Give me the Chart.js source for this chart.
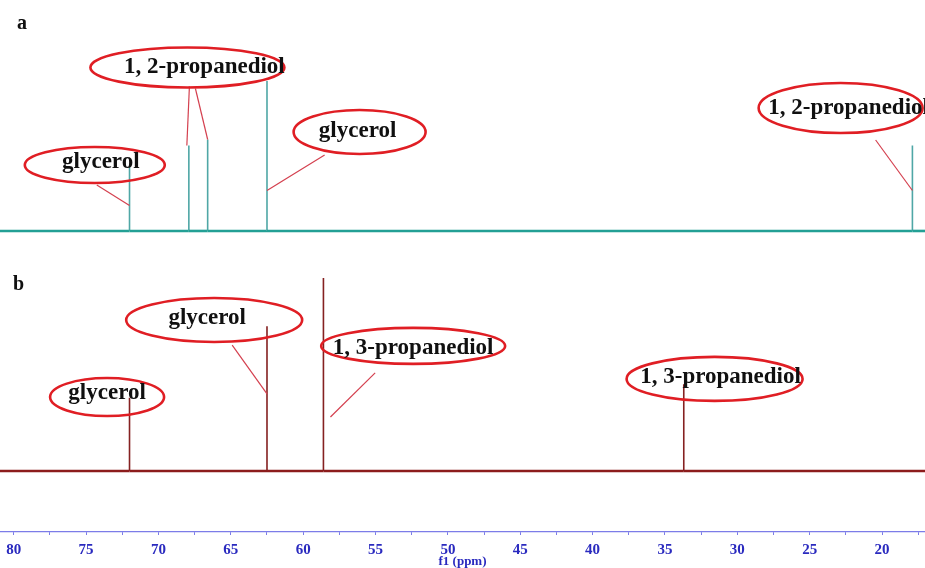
<!DOCTYPE html>
<html>
<head>
<meta charset="utf-8">
<script src="https://cdn.jsdelivr.net/npm/chart.js@4.4.1/dist/chart.umd.min.js"></script>
<style>
  html, body { margin: 0; padding: 0; background: #ffffff; }
  #wrap { width: 925px; height: 568px; position: relative; }
</style>
</head>
<body>
<div id="wrap"><canvas id="nmr" width="925" height="568"></canvas></div>
<script>
// 13C NMR spectra: chemical shift (ppm) and relative peak height of each signal
const shiftsA  = [72.0, 67.9, 66.6, 62.5, 17.9];
const heightsA = [43, 57, 61, 100, 57];
const shiftsB  = [72.0, 62.5, 58.6, 33.7];
const heightsB = [38, 75, 100, 45];

// f1 axis: labelled ticks and visible ppm window
const tickLabels = [80, 75, 70, 65, 60, 55, 50, 45, 40, 35, 30, 25, 20];
const ppmRange = [17.03, 80.95];

// peak assignments
const calloutsA = [
  { text: '1, 2-propanediol', ppm: 68.0, level: 109, rx: 97, ry: 20, dx: 17, dy: 0,
    leaders: [{ dx: 2, dy: 19, peak: 1, level: 57, endDx: -2 }, { dx: 8, dy: 21, peak: 2, level: 61 }] },
  { text: 'glycerol', ppm: 74.4, level: 44, rx: 70, ry: 18, dx: 6, dy: -3,
    leaders: [{ dx: 2, dy: 20, peak: 0, level: 17 }] },
  { text: 'glycerol', ppm: 56.1, level: 66, rx: 66, ry: 22, dx: -2, dy: -1,
    leaders: [{ dx: -35, dy: 23, peak: 3, level: 27 }] },
  { text: '1, 2-propanediol', ppm: 22.86, level: 82, rx: 82, ry: 25, dx: 8, dy: 0,
    leaders: [{ dx: 35, dy: 32, peak: 4, level: 27 }] }
];
const calloutsB = [
  { text: 'glycerol', ppm: 73.55, level: 38.3, rx: 57, ry: 19, dx: 0, dy: -4, leaders: [] },
  { text: 'glycerol', ppm: 66.15, level: 78.2, rx: 88, ry: 22, dx: -7, dy: -2,
    leaders: [{ dx: 18, dy: 25, peak: 1, level: 40 }] },
  { text: '1, 3-propanediol', ppm: 52.4, level: 64.8, rx: 92, ry: 18, dx: 0, dy: 2,
    leaders: [{ dx: -38, dy: 27, peak: 2, level: 28, endDx: 7 }] },
  { text: '1, 3-propanediol', ppm: 31.57, level: 47.7, rx: 88, ry: 22, dx: 6, dy: -2, leaders: [] }
];

const SERIF = "'Liberation Serif', 'Times New Roman', serif";
Chart.defaults.font.family = SERIF;

// stick spectrum: flat baseline with a vertical line at each shift
function spectrum(shifts, heights) {
  const pts = [{ x: ppmRange[1], y: 0 }];
  shifts.forEach((s, i) => {
    pts.push({ x: s, y: 0 }, { x: s, y: heights[i] }, { x: s, y: 0 });
  });
  pts.push({ x: ppmRange[0], y: 0 });
  return pts;
}

function spectrumDataset(shifts, heights, axis, baseColor, peakColor) {
  const flat = c => c.p0.parsed.y === 0 && c.p1.parsed.y === 0;
  return {
    data: spectrum(shifts, heights),
    yAxisID: axis,
    borderColor: baseColor,
    borderWidth: 2.6,
    borderJoinStyle: 'bevel',
    pointRadius: 0,
    tension: 0,
    segment: {
      borderWidth: c => flat(c) ? 2.6 : 1.6,
      borderColor: c => flat(c) ? baseColor : peakColor
    }
  };
}

const calloutPlugin = {
  id: 'callouts',
  afterDatasetsDraw(chart) {
    const ctx = chart.ctx;
    const xs = chart.scales.x;
    const draw = (list, axis, shifts) => {
      const ys = chart.scales[axis];
      list.forEach(c => {
        const cx = xs.getPixelForValue(c.ppm);
        const cy = ys.getPixelForValue(c.level);
        ctx.strokeStyle = '#d4404f';
        ctx.lineWidth = 1.2;
        c.leaders.forEach(l => {
          const ex = xs.getPixelForValue(shifts[l.peak]) + (l.endDx || 0);
          const ey = ys.getPixelForValue(l.level);
          ctx.beginPath();
          ctx.moveTo(cx + l.dx, cy + l.dy);
          ctx.lineTo(ex, ey);
          ctx.stroke();
        });
        ctx.beginPath();
        ctx.ellipse(cx, cy, c.rx, c.ry, 0, 0, Math.PI * 2);
        ctx.strokeStyle = '#e01e24';
        ctx.lineWidth = 2.6;
        ctx.stroke();
        ctx.fillStyle = '#101010';
        ctx.font = 'bold 23px ' + SERIF;
        ctx.textAlign = 'center';
        ctx.textBaseline = 'middle';
        ctx.fillText(c.text, cx + c.dx, cy + c.dy);
      });
    };
    ctx.save();
    draw(calloutsA, 'yA', shiftsA);
    draw(calloutsB, 'yB', shiftsB);
    // panel letters
    ctx.fillStyle = '#101010';
    ctx.font = 'bold 20px ' + SERIF;
    ctx.textAlign = 'left';
    ctx.textBaseline = 'alphabetic';
    ctx.fillText('a', 17, 29);
    ctx.fillText('b', 13, 290);
    ctx.restore();
  }
};

const AXIS_BLUE = '#7c7ce8';
const LABEL_BLUE = '#2a2abf';

new Chart(document.getElementById('nmr'), {
  type: 'line',
  data: {
    datasets: [
      spectrumDataset(shiftsA, heightsA, 'yA', '#23a095', '#4fa7a6'),
      spectrumDataset(shiftsB, heightsB, 'yB', '#8c1c1c', '#852121')
    ]
  },
  options: {
    responsive: false,
    animation: false,
    devicePixelRatio: 1,
    events: [],
    layout: { padding: 0 },
    plugins: { legend: { display: false }, tooltip: { enabled: false } },
    scales: {
      x: {
        type: 'linear',
        reverse: true,
        min: ppmRange[0],
        max: ppmRange[1],
        afterBuildTicks: scale => {
          const t = [];
          for (let v = tickLabels[0]; v >= ppmRange[0]; v -= 2.5) t.push({ value: v });
          scale.ticks = t;
        },
        afterFit: scale => {
          scale.height = 36;
          scale.paddingLeft = 0;
          scale.paddingRight = 0;
        },
        ticks: {
          autoSkip: false,
          maxRotation: 0,
          minRotation: 0,
          padding: 6,
          color: LABEL_BLUE,
          font: { size: 15, weight: 'bold', family: SERIF },
          callback: v => tickLabels.includes(v) ? String(v) : ''
        },
        grid: {
          drawOnChartArea: false,
          drawTicks: true,
          tickLength: 3,
          color: AXIS_BLUE
        },
        border: { display: true, color: AXIS_BLUE, width: 1.2 },
        title: {
          display: true,
          text: 'f1 (ppm)',
          color: LABEL_BLUE,
          font: { size: 13, weight: 'bold', family: SERIF },
          padding: { top: 0, bottom: -1 }
        }
      },
      yA: { type: 'linear', display: false, min: -200.7, max: 154 },
      yB: { type: 'linear', display: false, min: -31.6, max: 244.0 }
    }
  },
  plugins: [calloutPlugin]
});
</script>
</body>
</html>
